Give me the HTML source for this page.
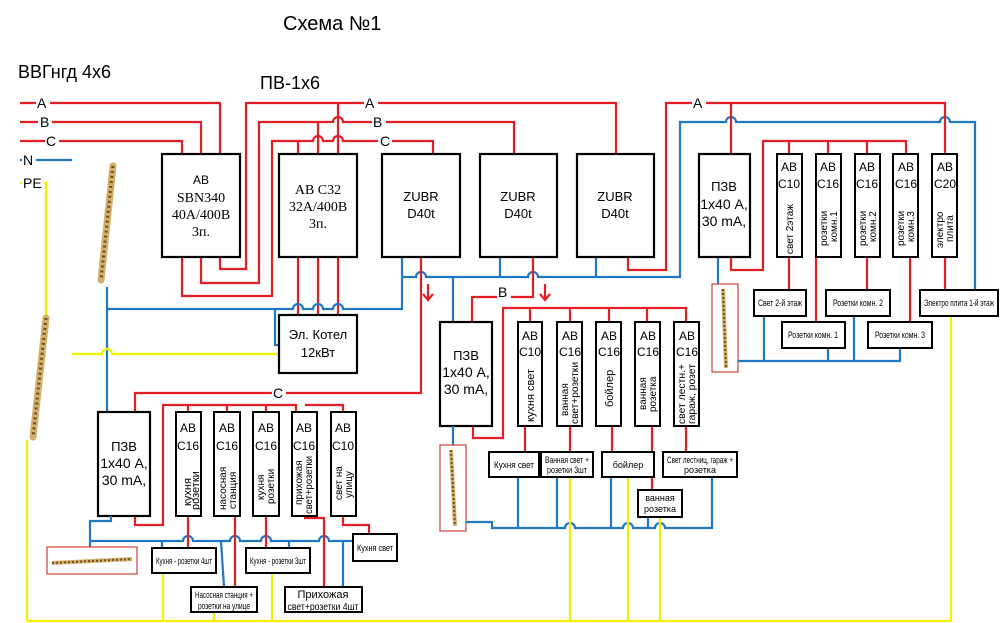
<!DOCTYPE html>
<html><head><meta charset="utf-8"><style>
html,body{margin:0;padding:0;background:#fff;}
svg{display:block;}
text{font-family:"Liberation Sans","DejaVu Sans",sans-serif;fill:#000;}
.r{stroke:#e41e25;stroke-width:2.2;fill:none;}
.b{stroke:#1f78c1;stroke-width:2.2;fill:none;}
.y{stroke:#f2f200;stroke-width:2.2;fill:none;}
.bx{fill:#fff;stroke:#000;stroke-width:2.2;}
.sb{fill:#fff;stroke:#000;stroke-width:2;}
.ser{font-family:"Liberation Serif",serif;}
</style></head><body>
<svg width="1000" height="623" viewBox="0 0 1000 623" xmlns="http://www.w3.org/2000/svg">
<!-- titles -->
<text x="283" y="30" font-size="20">Схема №1</text>
<text x="18" y="78" font-size="18">ВВГнгд 4х6</text>
<text x="260" y="89" font-size="18">ПВ-1х6</text>

<!-- incoming -->
<path class="r" d="M20 103H220V154M20 122H201V154M20 141H182V154"/>
<path class="b" d="M20 160H72"/>
<path class="y" d="M20 183H46V318"/>
<g font-size="14" >
<rect x="36" y="95" width="14" height="15" fill="#fff"/><text x="37" y="108">A</text>
<rect x="38" y="114" width="14" height="15" fill="#fff"/><text x="40" y="127">B</text>
<rect x="45" y="133" width="14" height="15" fill="#fff"/><text x="46" y="146">C</text>
<rect x="22" y="152" width="14" height="15" fill="#fff"/><text x="23" y="165">N</text>
<rect x="22" y="175" width="22" height="15" fill="#fff"/><text x="23" y="188">PE</text>
</g>

<!-- busbars -->
<line x1="113" y1="166" x2="101" y2="280" stroke="#d6ae6c" stroke-width="7" stroke-linecap="round"/>
<line x1="113" y1="166" x2="101" y2="280" stroke="#6b5222" stroke-width="3" stroke-dasharray="2 3"/>
<line x1="46" y1="318" x2="33" y2="437" stroke="#d6ae6c" stroke-width="7" stroke-linecap="round"/>
<line x1="46" y1="318" x2="33" y2="437" stroke="#6b5222" stroke-width="3" stroke-dasharray="2 3"/>

<!-- box1 outputs -->
<path class="r" d="M182 257V296H272V141H298V154"/>
<path class="r" d="M201 257V283H259V122H318V154"/>
<path class="r" d="M220 257V269H246V103H338V154"/>
<!-- main A/B/C continuing -->
<path class="r" d="M338 103H616V154"/>
<path class="r" d="M318 122H333a5 5 0 0 1 10 0H514V154"/>
<path class="r" d="M298 141H313a5 5 0 0 1 10 0H333a5 5 0 0 1 10 0H433V154"/>
<g font-size="14">
<rect x="364" y="95" width="14" height="15" fill="#fff"/><text x="365" y="108">A</text>
<rect x="372" y="114" width="14" height="15" fill="#fff"/><text x="373" y="127">B</text>
<rect x="378" y="133" width="14" height="15" fill="#fff"/><text x="380" y="146">C</text>
</g>

<!-- box2 outputs to kotel -->
<path class="r" d="M298 257V315M318 257V315M338 257V315"/>
<!-- blue N line y309 -->
<path class="b" d="M107 287V412M107 309H293a5 5 0 0 1 10 0h10a5 5 0 0 1 10 0h10a5 5 0 0 1 10 0H402V257"/>
<path class="b" d="M275 309V345H279"/>
<path class="y" d="M72 354H102a5 5 0 0 1 10 0H279"/>

<!-- ZUBR bottoms -->
<path class="b" d="M402 277H416a5 5 0 0 1 10 0H528a5 5 0 0 1 10 0H680V122H726a5 5 0 0 1 10 0H940a5 5 0 0 1 10 0H975V290"/>
<path class="b" d="M500 257V277M596 257V277M453 277V322"/>
<path class="r" d="M421 257V393H135V412"/>
<path class="r" d="M533 257V297H472V322"/>
<path class="r" d="M628 257V270H666V103H945V154M731 103V154"/>
<rect x="692" y="95" width="14" height="15" fill="#fff"/><text x="693" y="108" font-size="14">A</text>
<rect x="272" y="385" width="14" height="15" fill="#fff"/><text x="273" y="398" font-size="14">C</text>
<rect x="497" y="284" width="14" height="15" fill="#fff"/><text x="498" y="297" font-size="14">B</text>
<!-- arrows -->
<path class="r" d="M428 284V300M423 294l5 6 5-6"/>
<path class="r" d="M545 284V300M540 294l5 6 5-6"/>

<!-- boxes top row -->
<rect class="bx" x="162" y="154" width="78" height="103"/>
<text x="201" y="184" font-size="12" text-anchor="middle">AB</text>
<text class="ser" x="201" y="202" font-size="14" text-anchor="middle">SBN340</text>
<text class="ser" x="201" y="219" font-size="14" text-anchor="middle">40A/400B</text>
<text class="ser" x="201" y="236" font-size="14" text-anchor="middle">3п.</text>
<rect class="bx" x="279" y="154" width="78" height="103"/>
<text class="ser" x="318" y="194" font-size="14" text-anchor="middle">AB C32</text>
<text class="ser" x="318" y="211" font-size="14" text-anchor="middle">32A/400B</text>
<text class="ser" x="318" y="228" font-size="14" text-anchor="middle">3п.</text>
<rect class="bx" x="382" y="154" width="78" height="103"/>
<text x="421" y="201" font-size="13" text-anchor="middle">ZUBR</text><text x="421" y="218" font-size="13" text-anchor="middle">D40t</text>
<rect class="bx" x="480" y="154" width="77" height="103"/>
<text x="518" y="201" font-size="13" text-anchor="middle">ZUBR</text><text x="518" y="218" font-size="13" text-anchor="middle">D40t</text>
<rect class="bx" x="577" y="154" width="77" height="103"/>
<text x="615" y="201" font-size="13" text-anchor="middle">ZUBR</text><text x="615" y="218" font-size="13" text-anchor="middle">D40t</text>
<rect class="bx" x="279" y="315" width="78" height="58"/>
<text x="318" y="339" font-size="13" text-anchor="middle">Эл. Котел</text><text x="318" y="357" font-size="13" text-anchor="middle">12кВт</text>

<!-- right PZV group -->
<path class="b" d="M718 257V285"/>
<rect x="712" y="284" width="26" height="88" fill="#fff" stroke="#d04040" stroke-width="1.2"/>
<line x1="723" y1="289" x2="726" y2="368" stroke="#d6ae6c" stroke-width="4"/><line x1="723" y1="289" x2="726" y2="368" stroke="#6b5222" stroke-width="2" stroke-dasharray="2 2"/>
<path class="r" d="M731 257V270H763V141H906V154M789 141V154M828 141V154M867 141V154"/>
<rect class="bx" x="699" y="154" width="51" height="103"/>
<text x="724" y="191" font-size="13" text-anchor="middle">ПЗВ</text>
<text x="724" y="209" font-size="14" text-anchor="middle">1х40 А,</text>
<text x="724" y="226" font-size="14" text-anchor="middle">30 mA,</text>
<path class="r" d="M789 257V290M816 257V322M867 257V290M910 257V322M945 257V290"/>
<path class="b" d="M738 361H900V348M764 316V361M828 348V361M854 316V361"/>
<path class="y" d="M951 316V621H27V440"/>
<g font-size="12">
<rect class="sb" x="777" y="154" width="25" height="103"/><text x="789" y="171" text-anchor="middle">AB</text><text x="789" y="188" text-anchor="middle">C10</text><text transform="translate(793,254) rotate(-90)" font-size="10">свет 2этаж</text>
<rect class="sb" x="816" y="154" width="25" height="103"/><text x="828" y="171" text-anchor="middle">AB</text><text x="828" y="188" text-anchor="middle">C16</text><text transform="translate(827,246) rotate(-90)" font-size="10">розетки</text><text transform="translate(837,242) rotate(-90)" font-size="10">комн.1</text>
<rect class="sb" x="855" y="154" width="25" height="103"/><text x="867" y="171" text-anchor="middle">AB</text><text x="867" y="188" text-anchor="middle">C16</text><text transform="translate(866,246) rotate(-90)" font-size="10">розетки</text><text transform="translate(876,242) rotate(-90)" font-size="10">комн.2</text>
<rect class="sb" x="893" y="154" width="25" height="103"/><text x="906" y="171" text-anchor="middle">AB</text><text x="906" y="188" text-anchor="middle">C16</text><text transform="translate(904,246) rotate(-90)" font-size="10">розетки</text><text transform="translate(914,242) rotate(-90)" font-size="10">комн.3</text>
<rect class="sb" x="932" y="154" width="25" height="103"/><text x="945" y="171" text-anchor="middle">AB</text><text x="945" y="188" text-anchor="middle">C20</text><text transform="translate(943,248) rotate(-90)" font-size="10">электро</text><text transform="translate(953,242) rotate(-90)" font-size="10">плита</text>
</g>
<g font-size="9" text-anchor="middle">
<rect class="sb" x="754" y="290" width="52" height="26"/><text x="780" y="306" textLength="44" lengthAdjust="spacingAndGlyphs">Свет 2-й этаж</text>
<rect class="sb" x="782" y="322" width="63" height="26"/><text x="813" y="338" textLength="50" lengthAdjust="spacingAndGlyphs">Розетки комн. 1</text>
<rect class="sb" x="826" y="290" width="64" height="26"/><text x="858" y="306" textLength="50" lengthAdjust="spacingAndGlyphs">Розетки комн. 2</text>
<rect class="sb" x="868" y="322" width="64" height="26"/><text x="900" y="338" textLength="50" lengthAdjust="spacingAndGlyphs">Розетки комн. 3</text>
<rect class="sb" x="920" y="290" width="78" height="26"/><text x="959" y="306" textLength="70" lengthAdjust="spacingAndGlyphs">Электро плита 1-й этаж</text>
</g>

<!-- middle PZV group -->
<path class="r" d="M473 426V438H503V308H686V322M530 308V322M570 308V322M609 308V322M647 308V322"/>
<rect class="bx" x="440" y="322" width="52" height="104"/>
<text x="466" y="360" font-size="13" text-anchor="middle">ПЗВ</text>
<text x="466" y="377" font-size="14" text-anchor="middle">1х40 А,</text>
<text x="466" y="394" font-size="14" text-anchor="middle">30 mA,</text>
<path class="b" d="M453 426V445"/>
<rect x="440" y="445" width="26" height="86" fill="#fff" stroke="#d04040" stroke-width="1.2"/>
<line x1="451" y1="450" x2="455" y2="526" stroke="#d6ae6c" stroke-width="4"/><line x1="451" y1="450" x2="455" y2="526" stroke="#6b5222" stroke-width="2" stroke-dasharray="2 2"/>
<path class="r" d="M525 426V452M570 426V452M612 426V452M652 426V490M686 426V452"/>
<path class="b" d="M466 522H492V528H565a5 5 0 0 1 10 0H623a5 5 0 0 1 10 0H655a5 5 0 0 1 10 0H712V477M518 477V528M557 477V528M611 477V528M648 517V528"/>
<path class="y" d="M570 477V621M628 477V621M660 517V621"/>
<g font-size="12">
<rect class="sb" x="518" y="322" width="24" height="104"/><text x="530" y="340" text-anchor="middle">AB</text><text x="530" y="356" text-anchor="middle">C10</text><text transform="translate(534,422) rotate(-90)" font-size="11">кухня свет</text>
<rect class="sb" x="557" y="322" width="25" height="104"/><text x="570" y="340" text-anchor="middle">AB</text><text x="570" y="356" text-anchor="middle">C16</text><text transform="translate(568,416) rotate(-90)" font-size="10">ванная</text><text transform="translate(578,424) rotate(-90)" font-size="10" textLength="62" lengthAdjust="spacingAndGlyphs">свет+розетки</text>
<rect class="sb" x="596" y="322" width="25" height="104"/><text x="609" y="340" text-anchor="middle">AB</text><text x="609" y="356" text-anchor="middle">C16</text><text transform="translate(613,407) rotate(-90)" font-size="11">бойлер</text>
<rect class="sb" x="635" y="322" width="25" height="104"/><text x="648" y="340" text-anchor="middle">AB</text><text x="648" y="356" text-anchor="middle">C16</text><text transform="translate(646,410) rotate(-90)" font-size="10">ванная</text><text transform="translate(656,412) rotate(-90)" font-size="10">розетка</text>
<rect class="sb" x="674" y="322" width="25" height="104"/><text x="687" y="340" text-anchor="middle">AB</text><text x="687" y="356" text-anchor="middle">C16</text><text transform="translate(685,424) rotate(-90)" font-size="10" textLength="60" lengthAdjust="spacingAndGlyphs">свет лестн.+</text><text transform="translate(695,424) rotate(-90)" font-size="10" textLength="60" lengthAdjust="spacingAndGlyphs">гараж, розет</text>
</g>
<g font-size="9" text-anchor="middle">
<rect class="sb" x="489" y="452" width="50" height="25"/><text x="514" y="468" textLength="40" lengthAdjust="spacingAndGlyphs">Кухня свет</text>
<rect class="sb" x="541" y="452" width="52" height="25"/><text x="567" y="463" textLength="44" lengthAdjust="spacingAndGlyphs">Ванная свет +</text><text x="567" y="473" textLength="40" lengthAdjust="spacingAndGlyphs">розетки 3шт</text>
<rect class="sb" x="602" y="452" width="52" height="25"/><text x="628" y="468">бойлер</text>
<rect class="sb" x="638" y="490" width="44" height="27"/><text x="660" y="501">ванная</text><text x="660" y="512">розетка</text>
<rect class="sb" x="663" y="452" width="74" height="25"/><text x="700" y="463" textLength="66" lengthAdjust="spacingAndGlyphs">Свет лестниц, гараж +</text><text x="700" y="473">розетка</text>
</g>

<!-- left bottom PZV group -->
<path class="r" d="M135 516V525H163V405H296V412M188 405V412M227 405V412M266 405V412M305 405H343V412"/>
<rect class="bx" x="98" y="412" width="52" height="104"/>
<text x="124" y="451" font-size="13" text-anchor="middle">ПЗВ</text>
<text x="124" y="468" font-size="14" text-anchor="middle">1х40 А,</text>
<text x="124" y="485" font-size="14" text-anchor="middle">30 mA,</text>
<path class="b" d="M111 516V521H90V547M90 541H183a5 5 0 0 1 10 0H230a5 5 0 0 1 10 0H261a5 5 0 0 1 10 0H319a5 5 0 0 1 10 0H353M162 541V548M221 541L224 587M289 541V548M343 541V587"/>
<rect x="47" y="547" width="90" height="27" fill="#fff" stroke="#d04040" stroke-width="1.2"/>
<line x1="52" y1="563" x2="132" y2="559" stroke="#d6ae6c" stroke-width="4"/><line x1="52" y1="563" x2="132" y2="559" stroke="#6b5222" stroke-width="2" stroke-dasharray="2 2"/>
<path class="r" d="M188 516V548M235 516V587M266 516V548M305 516V518H324V587M343 516V525H369V534"/>
<path class="y" d="M163 573V621M214 612V621M272 573V621"/>
<g font-size="12">
<rect class="sb" x="176" y="412" width="25" height="104"/><text x="188" y="432" text-anchor="middle">AB</text><text x="188" y="450" text-anchor="middle">C16</text><text transform="translate(191,506) rotate(-90)" font-size="11">кухня</text><text transform="translate(199,510) rotate(-90)" font-size="11">розетки</text>
<rect class="sb" x="214" y="412" width="26" height="104"/><text x="227" y="432" text-anchor="middle">AB</text><text x="227" y="450" text-anchor="middle">C16</text><text transform="translate(226,510) rotate(-90)" font-size="10">насосная</text><text transform="translate(236,509) rotate(-90)" font-size="10">станция</text>
<rect class="sb" x="253" y="412" width="26" height="104"/><text x="266" y="432" text-anchor="middle">AB</text><text x="266" y="450" text-anchor="middle">C16</text><text transform="translate(264,500) rotate(-90)" font-size="10">кухня</text><text transform="translate(274,504) rotate(-90)" font-size="10">розетки</text>
<rect class="sb" x="292" y="412" width="25" height="104"/><text x="304" y="432" text-anchor="middle">AB</text><text x="304" y="450" text-anchor="middle">C16</text><text transform="translate(302,505) rotate(-90)" font-size="10">прихожая</text><text transform="translate(312,514) rotate(-90)" font-size="10" textLength="58" lengthAdjust="spacingAndGlyphs">свет+розетки</text>
<rect class="sb" x="331" y="412" width="25" height="104"/><text x="343" y="432" text-anchor="middle">AB</text><text x="343" y="450" text-anchor="middle">C10</text><text transform="translate(342,500) rotate(-90)" font-size="10">свет на</text><text transform="translate(352,498) rotate(-90)" font-size="10">улицу</text>
</g>
<g font-size="9" text-anchor="middle">
<rect class="sb" x="152" y="548" width="64" height="25"/><text x="184" y="564" textLength="56" lengthAdjust="spacingAndGlyphs">Кухня - розетки 4шт</text>
<rect class="sb" x="191" y="587" width="66" height="25"/><text x="224" y="598" textLength="58" lengthAdjust="spacingAndGlyphs">Насосная станция +</text><text x="224" y="609" textLength="52" lengthAdjust="spacingAndGlyphs">розетки на улице</text>
<rect class="sb" x="246" y="548" width="64" height="25"/><text x="278" y="564" textLength="56" lengthAdjust="spacingAndGlyphs">Кухня - розетки 3шт</text>
<rect class="sb" x="285" y="587" width="77" height="25"/><text x="323" y="598" font-size="11">Прихожая</text><text x="323" y="610" font-size="10" textLength="71" lengthAdjust="spacingAndGlyphs">свет+розетки 4шт</text>
<rect class="sb" x="353" y="534" width="44" height="27"/><text x="375" y="551" textLength="36" lengthAdjust="spacingAndGlyphs">Кухня свет</text>
</g>
</svg>
</body></html>
